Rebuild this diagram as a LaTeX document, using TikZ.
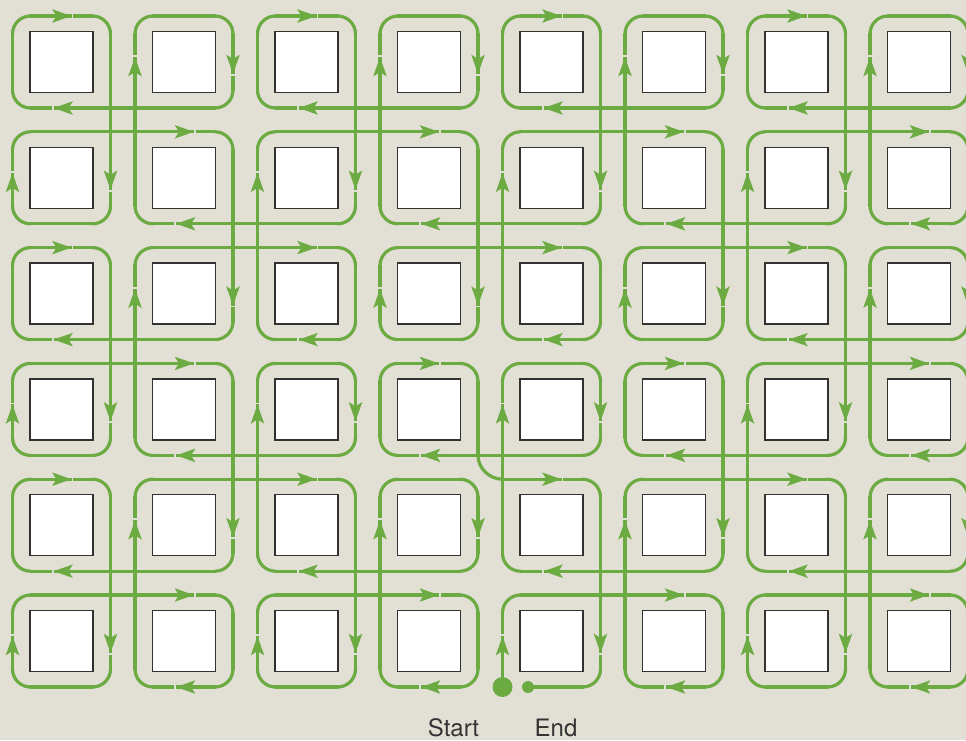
\documentclass[tikz,border=0pt]{standalone}
\usepackage{fontspec}
\setmainfont{TeX Gyre Heros}
\usetikzlibrary{arrows.meta}
\definecolor{paper}{RGB}{226,224,213}
\definecolor{lanegreen}{RGB}{108,170,66}
\definecolor{paneedge}{RGB}{50,50,50}
\newcommand{\crossgaps}{1/1,3/1,5/1,7/1,2/2,4/2,6/2,1/3,7/3,2/4,4/4,6/4,1/5,3/5,5/5,7/5}

\begin{document}
\begin{tikzpicture}[
  x=1pt, y=-1pt,
  pane/.style={draw=paneedge, fill=white, line width=1.4pt,
    minimum width=63pt, minimum height=61pt, inner sep=0pt},
  lane/.style={draw=lanegreen, line width=3.2pt, line cap=round},
  arr/.style={lane, -{Stealth[length=19pt,width=13pt,inset=4pt]}},
  notch/.style={draw=paper, line width=5pt, line cap=butt},
  bead/.style={circle, fill=lanegreen, inner sep=0pt},
  lbl/.style={font=\fontsize{24}{28}\selectfont, text=black!80, inner sep=0pt}
]
\fill[paper, use as bounding box] (0,0) rectangle (966,740);
\clip (0,0) rectangle (966,740);

\foreach \a/\b in \crossgaps {\expandafter\gdef\csname cg-\a-\b\endcsname{}}

\foreach \i in {1,...,8}
  \foreach \j in {1,...,6}
    \node[pane] (sq-\i-\j) at ({61.5+122.5*(\i-1)},{62+115.8*(\j-1)}) {};

% one clockwise loop per square; 18 = round the corner, 0 = run on into the gap
\foreach \i in {1,...,8}{
  \foreach \j in {1,...,6}{
    \pgfmathsetmacro\xm{61.5+122.5*(\i-1)}
    \pgfmathsetmacro\ym{62+115.8*(\j-1)}
    \pgfmathsetmacro\xl{\xm-49}
    \pgfmathsetmacro\xr{\xm+49}
    \pgfmathsetmacro\yt{\ym-46}
    \pgfmathsetmacro\yb{\ym+46}
    \pgfmathtruncatemacro\ip{\i-1}
    \pgfmathtruncatemacro\jp{\j-1}
    \def\tl{18}\def\tr{18}\def\br{18}\def\bl{18}\def\blb{18}
    \ifcsname cg-\ip-\jp\endcsname\def\tl{0}\fi
    \ifcsname cg-\i-\jp\endcsname\def\tr{0}\fi
    \ifcsname cg-\ip-\j\endcsname\def\bl{0}\def\blb{0}\fi
    \ifcsname cg-\i-\j\endcsname\def\br{0}\fi
    \ifnum\i\j=45 \def\tr{18}\fi
    \ifnum\i\j=56 \def\bl{0}\def\blb{25.5}\fi
    \draw[lane] (\xl+\tl,\yt) -- (\xr-\tr,\yt);
    \draw[lane] (\xr,\yt+\tr) -- (\xr,\yb-\br);
    \draw[lane] (\xr-\br,\yb) -- (\xl+\blb,\yb);
    \draw[lane] (\xl,\yb-\bl) -- (\xl,\yt+\tl);
    \ifnum\tl>0 \draw[lane] (\xl,\yt+18) .. controls (\xl,\yt+8) and (\xl+8,\yt) .. (\xl+18,\yt);\fi
    \ifnum\tr>0 \draw[lane] (\xr-18,\yt) .. controls (\xr-8,\yt) and (\xr,\yt+8) .. (\xr,\yt+18);\fi
    \ifnum\br>0 \draw[lane] (\xr,\yb-18) .. controls (\xr,\yb-8) and (\xr-8,\yb) .. (\xr-18,\yb);\fi
    \ifnum\bl>0 \draw[lane] (\xl+18,\yb) .. controls (\xl+8,\yb) and (\xl,\yb-8) .. (\xl,\yb-18);\fi
    \ifodd\numexpr\i+\j\relax
      \draw[notch] (\xr,\ym+12) -- (\xr,\ym+13.8);
      \draw[arr] (\xr,\ym-8) -- (\xr,\ym+12);
      \draw[notch] (\xl,\ym-5) -- (\xl,\ym-6.8);
      \draw[arr] (\xl,\ym+15) -- (\xl,\ym-5);
    \else
      \draw[notch] (\xm+10,\yt) -- (\xm+11.8,\yt);
      \draw[arr] (\xm-10,\yt) -- (\xm+10,\yt);
      \draw[notch] (\xm-8,\yb) -- (\xm-9.8,\yb);
      \draw[arr] (\xm+12,\yb) -- (\xm-8,\yb);
    \fi
  }
}

% crossings between four loops
\foreach \a/\b in \crossgaps{
  \pgfmathsetmacro\xa{61.5+122.5*(\a-1)+49}
  \pgfmathsetmacro\xb{61.5+122.5*\a-49}
  \pgfmathsetmacro\ya{62+115.8*(\b-1)+46}
  \pgfmathsetmacro\yc{62+115.8*\b-46}
  \draw[lane] (\xb,\ya) -- (\xb,\yc) (\xa,\ya) -- (\xb,\ya);
  \ifnum\a\b=44
    \draw[lane] (\xa,\ya) .. controls (\xa,\ya+13) and (\xb-13,\yc) .. (\xb,\yc);
  \else
    \draw[lane] (\xa,\ya) -- (\xa,\yc) (\xa,\yc) -- (\xb,\yc);
  \fi
}

\node[bead, minimum size=20pt] (startdot) at (502.5,687) {};
\node[bead, minimum size=12pt] (enddot) at (528,687) {};
\node[lbl, anchor=base] (startlbl) at (453.5,736) {Start};
\node[lbl, anchor=base] (endlbl) at (556,736) {End};
\end{tikzpicture}
\end{document}
